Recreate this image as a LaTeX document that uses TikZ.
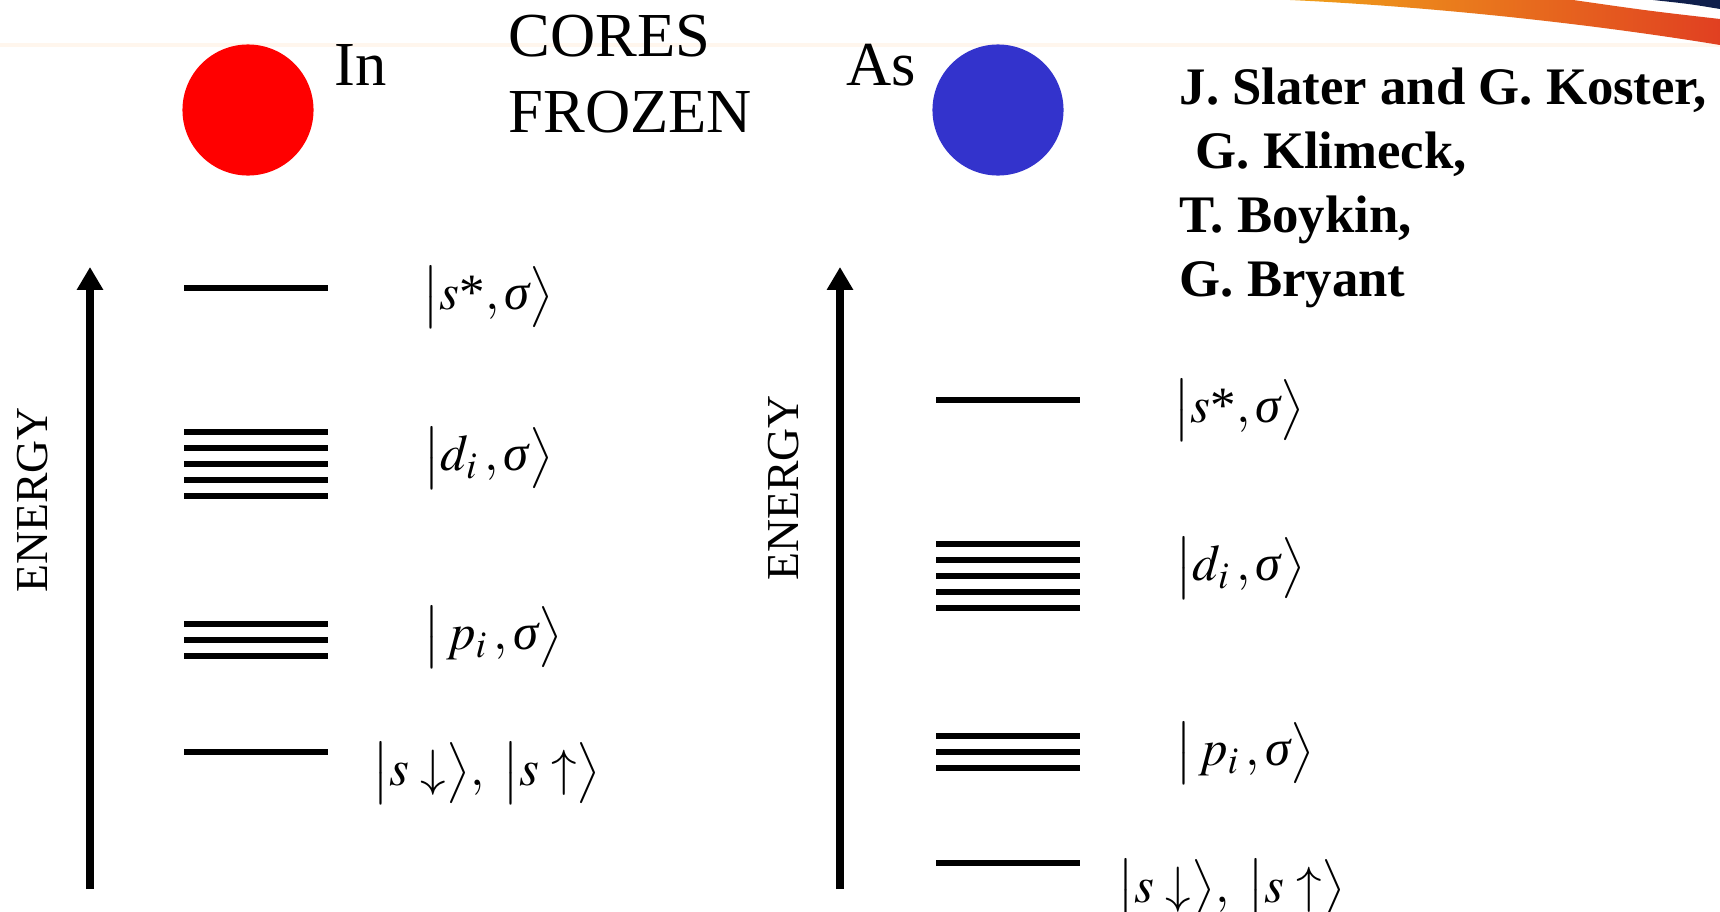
\documentclass[tikz,border=0pt]{standalone}
\usepackage{mathptmx}
\usepackage{fontspec}
\setmainfont{Liberation Serif}
\usetikzlibrary{arrows.meta}
\definecolor{inred}{rgb}{1.0,0.0,0.0}
\definecolor{asblue}{rgb}{0.2,0.2,0.8}
\definecolor{swoosha}{rgb}{0.94,0.63,0.10}
\definecolor{swooshb}{rgb}{0.88,0.25,0.13}
\definecolor{navy}{rgb}{0.06,0.12,0.30}
\newcommand{\sig}{\mbox{\itshape σ}}
\tikzset{
  lvl/.style={line width=1.7pt},
  eaxis/.style={line width=2.2pt, -{Triangle[width=7.1pt,length=6.5pt]}},
  elbl/.style={rotate=90, font=\fontsize{13}{15}\selectfont, inner sep=0pt},
  ket/.style={anchor=west, inner sep=0pt, font=\fontsize{14.5}{17}\selectfont},
  atom/.style={circle, inner sep=0pt, minimum size=1.31cm},
  ttl/.style={anchor=base west, inner sep=0pt, font=\fontsize{17.8}{21}\selectfont},
  auth/.style={anchor=base west, inner sep=0pt, font=\fontsize{15}{18}\selectfont\bfseries},
}
\begin{document}
\begin{tikzpicture}[x=0.01cm,y=-0.01cm]
\useasboundingbox[fill=white] (0,0) rectangle (1720,912);
\draw[line width=1pt, orange!7] (0,45) -- (1720,45);
\shade[left color=swoosha, right color=swooshb] (1290,0) .. controls (1420,6) and (1580,22) .. (1720,45) -- (1720,19) .. controls (1650,11) .. (1573,0) -- cycle;
\fill[navy] (1653,0) .. controls (1690,4) .. (1720,9) -- (1720,0) -- cycle;

\node[atom, fill=inred] (inatom) at (248,110) {};
\node[atom, fill=asblue] (asatom) at (998,110) {};
\node[ttl] (inlbl) at (334,86) {In};
\node[ttl] (cores) at (508,57) {CORES};
\node[ttl] (frozen) at (508,132) {FROZEN};
\node[ttl] (aslbl) at (846,86) {As};
\node[auth] (auth1) at (1179,104) {J. Slater and G. Koster,};
\node[auth] (auth2) at (1195,168) {G. Klimeck,};
\node[auth] (auth3) at (1179,232) {T. Boykin,};
\node[auth] (auth4) at (1179,296) {G. Bryant};

\coordinate (lbot) at (90,889);
\coordinate (ltop) at (90,267);
\coordinate (rbot) at (840,889);
\coordinate (rtop) at (840,267);
\draw[eaxis] (lbot) -- (ltop);
\draw[eaxis] (rbot) -- (rtop);
\node[elbl] (lenergy) at (33,500) {ENERGY};
\node[elbl] (renergy) at (784,488) {ENERGY};

\foreach \y in {288,432,448,464,480,496,624,640,656,752}
  \draw[lvl] (184,\y) -- (328,\y);
\foreach \y in {400,544,560,576,592,608,736,752,768,863}
  \draw[lvl] (936,\y) -- (1080,\y);

\node[ket] (lsstar) at (422,297) {$\bigl|s\mbox{*},\sig\bigr\rangle$};
\node[ket] (ld) at (423,458) {$\bigl|d_{i}\,,\sig\bigr\rangle$};
\node[ket] (lp) at (423,637) {$\bigl|\,p_{i}\,,\sig\bigr\rangle$};
\node[ket] (ls) at (372,773) {$\bigl|s\downarrow\bigr\rangle,\ \bigl|s\uparrow\bigr\rangle$};
\node[ket] (rsstar) at (1173,410) {$\bigl|s\mbox{*},\sig\bigr\rangle$};
\node[ket] (rd) at (1175,568) {$\bigl|d_{i}\,,\sig\bigr\rangle$};
\node[ket] (rp) at (1175,753) {$\bigl|\,p_{i}\,,\sig\bigr\rangle$};
\node[ket] (rs) at (1117,890) {$\bigl|s\downarrow\bigr\rangle,\ \bigl|s\uparrow\bigr\rangle$};
\end{tikzpicture}
\end{document}
